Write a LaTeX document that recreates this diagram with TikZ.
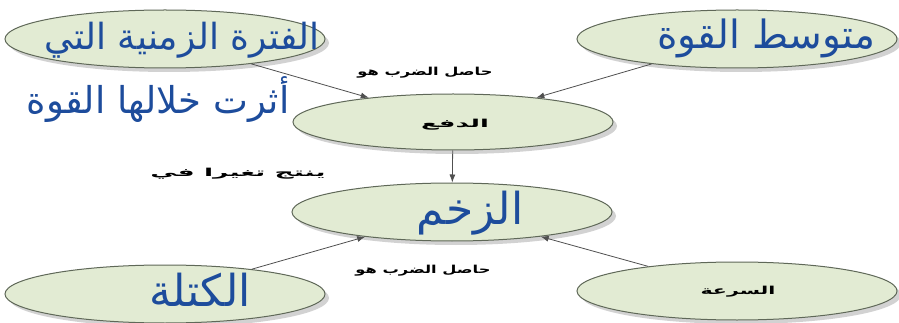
\documentclass[tikz,border=0pt]{standalone}
\usepackage{fontspec}
\usepackage{graphicx}
\newfontfamily\arabicfont[Script=Arabic]{DejaVu Sans}
\TeXXeTstate=1
\usetikzlibrary{shapes.geometric,shadows,arrows.meta}
\definecolor{ellfill}{HTML}{E2EBD3}
\definecolor{elldraw}{HTML}{5F6858}
\definecolor{handblue}{HTML}{1D4C9C}
\definecolor{linegray}{HTML}{505050}
\newcommand{\wideR}[2]{\resizebox{#1}{\height}{#2}}
\tikzset{
  oval/.style={ellipse, draw=elldraw, line width=1pt, fill=ellfill,
    minimum width=320pt, minimum height=58pt, inner sep=0pt,
    drop shadow={shadow xshift=4pt, shadow yshift=-4pt, opacity=0.35, fill=gray}},
  hand/.style={text=handblue, font=\arabicfont\fontsize{#1}{#1}\selectfont, inner sep=0pt},
  lbl/.style={text=black, font=\arabicfont\bfseries\fontsize{11}{13}\selectfont, inner sep=0pt},
  conn/.style={draw=linegray, line width=0.8pt, -{Latex[length=8pt,width=6pt]}}
}
\begin{document}
\begin{tikzpicture}[x=1pt,y=-1pt]
\useasboundingbox (0,0) rectangle (899,323);
\fill[white] (0,0) rectangle (899,323);
% ellipses
\node[oval] (period) at (165,39) {};
\node[oval] (force) at (737,39) {};
\node[oval, minimum height=56pt] (impulse) at (453,122) {};
\node[oval] (momentum) at (452,212) {};
\node[oval] (mass) at (165,294) {};
\node[oval] (velocity) at (737,291) {};
% connectors
\draw[conn] (period) -- (impulse);
\draw[conn] (force) -- (impulse);
\draw[conn] (impulse) -- (momentum);
\draw[conn] (mass) -- (momentum);
\draw[conn] (velocity) -- (momentum);
% printed texts
\node[lbl] (impulsetxt) at (455,125) {\wideR{68pt}{\beginR الدفع\endR}};
\node[lbl] (veltxt) at (738,292) {\wideR{75pt}{\beginR السرعة\endR}};
\node[lbl] (lbltop) at (425,73) {\wideR{135pt}{\beginR حاصل الضرب هو\endR}};
\node[lbl] (lblbot) at (423,271) {\wideR{135pt}{\beginR حاصل الضرب هو\endR}};
\node[lbl] (lblmid) at (238,174) {\wideR{175pt}{\beginR ينتج تغيرا في\endR}};
% handwritten texts
\node[hand=36] (periodtxt) at (182,40) {\beginR الفترة الزمنية التي\endR};
\node[hand=37] (periodtxt2) at (158,100) {\beginR أثرت خلالها القوة\endR};
\node[hand=39] (forcetxt) at (766,38) {\beginR متوسط القوة\endR};
\node[hand=44] (momtxt) at (470,213) {\beginR الزخم\endR};
\node[hand=44] (masstxt) at (200,290) {\beginR الكتلة\endR};
\end{tikzpicture}
\end{document}
